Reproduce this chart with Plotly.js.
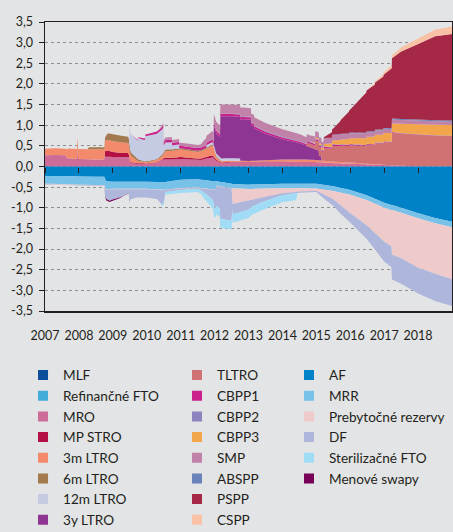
<!DOCTYPE html>
<html><head><meta charset="utf-8">
<script src="https://cdn.plot.ly/plotly-3.0.1.min.js"></script>
<style>html,body{margin:0;padding:0;background:#e3e4e5;} #chart{width:453px;height:532px;}</style>
</head><body><div id="chart"></div>
<script>
// ---------- DATA (trillions EUR, x = decimal year) ----------
// Assets (positive side), bottom to top
const mlfX = [2007.0, 2019.0];
const mlfY = [0, 0];
const refFtoX = [2007.0, 2019.0];
const refFtoY = [0, 0];
const mroX = [2007.0, 2007.3, 2007.6, 2007.65, 2007.94, 2007.955, 2007.975, 2008.02, 2008.4, 2008.74, 2008.78, 2009.0, 2009.3, 2009.47, 2009.52, 2009.75, 2010.0, 2010.3, 2010.5, 2010.75, 2011.0, 2011.3, 2011.6, 2011.8, 2011.95, 2012.05, 2012.2, 2012.5, 2013.0, 2013.5, 2014.0, 2014.5, 2014.9, 2015.5, 2016.0, 2016.5, 2017.0, 2017.5, 2018.0, 2019.0];
const mroY = [0.27, 0.28, 0.27, 0.2, 0.18, 0.46, 0.18, 0.18, 0.17, 0.17, 0.24, 0.23, 0.23, 0.23, 0.09, 0.06, 0.06, 0.1, 0.17, 0.17, 0.18, 0.17, 0.16, 0.2, 0.22, 0.14, 0.08, 0.1, 0.1, 0.11, 0.12, 0.11, 0.11, 0.08, 0.07, 0.05, 0.035, 0.02, 0.005, 0.004];
const mpStroX = [2007.0, 2008.75, 2008.77, 2008.9, 2009.0, 2009.3, 2009.45, 2009.5, 2010.45, 2010.52, 2011.0, 2011.5, 2011.9, 2012.1, 2012.5, 2013.0, 2014.0, 2014.5, 2019.0];
const mpStroY = [0, 0, 0.14, 0.14, 0.12, 0.1, 0.1, 0.02, 0.01, 0.04, 0.05, 0.03, 0.05, 0.02, 0.015, 0.01, 0.01, 0, 0];
const ltro3mX = [2007.0, 2007.6, 2007.68, 2008.0, 2008.5, 2008.75, 2008.8, 2009.0, 2009.3, 2009.47, 2009.55, 2009.75, 2010.0, 2010.3, 2010.5, 2010.55, 2011.0, 2011.5, 2011.8, 2011.95, 2012.05, 2012.2, 2013.0, 2014.0, 2014.6, 2015.0, 2015.5, 2016.0, 2016.5, 2017.0, 2017.5, 2019.0];
const ltro3mY = [0.16, 0.16, 0.24, 0.245, 0.245, 0.245, 0.26, 0.26, 0.25, 0.24, 0.14, 0.05, 0.03, 0.05, 0.1, 0.16, 0.18, 0.16, 0.2, 0.24, 0.07, 0.03, 0.025, 0.04, 0.06, 0.05, 0.04, 0.025, 0.015, 0.008, 0, 0];
const ltro6mX = [2007.0, 2008.25, 2008.3, 2008.75, 2008.85, 2009.0, 2009.45, 2009.55, 2009.9, 2010.3, 2010.5, 2011.0, 2011.5, 2011.95, 2012.2, 2012.6, 2019.0];
const ltro6mY = [0, 0, 0.05, 0.05, 0.16, 0.17, 0.15, 0.08, 0.02, 0.02, 0.04, 0.03, 0.03, 0.03, 0.01, 0, 0];
const ltro12mX = [2007.0, 2009.48, 2009.49, 2009.74, 2009.75, 2009.95, 2009.96, 2010.49, 2010.5, 2010.74, 2010.75, 2010.95, 2010.96, 2011.75, 2011.76, 2012.75, 2012.76, 2019.0];
const ltro12mY = [0, 0, 0.442, 0.442, 0.517, 0.517, 0.614, 0.614, 0.172, 0.172, 0.097, 0.097, 0, 0, 0.057, 0.057, 0, 0];
const ltro3yX = [2007.0, 2011.97, 2011.98, 2012.16, 2012.17, 2013.07, 2013.08, 2013.16, 2013.17, 2013.5, 2014.0, 2014.5, 2014.72, 2014.97, 2015.07, 2015.08, 2015.15, 2015.16, 2019.0];
const ltro3yY = [0, 0, 0.489, 0.489, 1.019, 1.0, 0.86, 0.84, 0.78, 0.64, 0.49, 0.4, 0.33, 0.26, 0.24, 0.12, 0.1, 0, 0];
const tltroX = [2007.0, 2014.71, 2014.72, 2014.96, 2014.97, 2015.21, 2015.22, 2015.46, 2015.47, 2015.71, 2015.72, 2015.96, 2015.97, 2016.21, 2016.22, 2016.47, 2016.48, 2016.72, 2016.73, 2016.97, 2016.98, 2017.22, 2017.23, 2017.5, 2018.0, 2018.5, 2019.0];
const tltroY = [0, 0, 0.083, 0.083, 0.212, 0.212, 0.31, 0.31, 0.384, 0.384, 0.4, 0.4, 0.418, 0.418, 0.425, 0.425, 0.462, 0.462, 0.507, 0.507, 0.548, 0.548, 0.782, 0.778, 0.765, 0.74, 0.73];
const cbpp1X = [2007.0, 2009.5, 2009.75, 2010.0, 2010.5, 2011.5, 2012.5, 2013.5, 2014.5, 2015.5, 2016.5, 2017.5, 2019.0];
const cbpp1Y = [0, 0, 0.02, 0.04, 0.06, 0.062, 0.06, 0.05, 0.04, 0.028, 0.018, 0.01, 0.004];
const cbpp2X = [2007.0, 2011.85, 2012.3, 2012.85, 2014.0, 2015.0, 2016.0, 2017.0, 2018.0, 2019.0];
const cbpp2Y = [0, 0, 0.008, 0.016, 0.015, 0.012, 0.009, 0.007, 0.005, 0.004];
const cbpp3X = [2007.0, 2014.8, 2014.97, 2015.2, 2015.5, 2016.0, 2016.5, 2017.0, 2017.5, 2018.0, 2018.5, 2019.0];
const cbpp3Y = [0, 0, 0.03, 0.05, 0.09, 0.14, 0.17, 0.2, 0.22, 0.24, 0.255, 0.262];
const smpX = [2007.0, 2010.36, 2010.45, 2010.55, 2011.0, 2011.6, 2011.7, 2011.95, 2012.2, 2013.0, 2014.0, 2014.5, 2015.0, 2016.0, 2017.0, 2018.0, 2019.0];
const smpY = [0, 0, 0.04, 0.06, 0.074, 0.076, 0.15, 0.21, 0.22, 0.21, 0.18, 0.165, 0.145, 0.12, 0.1, 0.09, 0.08];
const absppX = [2007.0, 2014.88, 2015.0, 2015.5, 2016.0, 2017.0, 2018.0, 2019.0];
const absppY = [0, 0, 0.002, 0.008, 0.016, 0.023, 0.026, 0.028];
const psppX = [2007.0, 2015.18, 2015.5, 2016.0, 2016.5, 2017.0, 2017.22, 2017.5, 2018.0, 2018.5, 2019.0];
const psppY = [0, 0, 0.15, 0.56, 1.0, 1.3, 1.45, 1.63, 1.83, 2.03, 2.1];
const csppX = [2007.0, 2016.44, 2016.6, 2017.0, 2017.5, 2018.0, 2018.5, 2019.0];
const csppY = [0, 0, 0.02, 0.055, 0.1, 0.13, 0.16, 0.178];

// Liabilities (negative side), top to bottom
const afX = [2007.0, 2007.5, 2008.0, 2008.5, 2008.75, 2008.8, 2009.0, 2009.5, 2010.0, 2010.5, 2011.0, 2011.5, 2011.9, 2012.0, 2012.5, 2013.0, 2013.5, 2014.0, 2014.5, 2015.0, 2015.5, 2016.0, 2016.5, 2017.0, 2017.5, 2018.0, 2018.5, 2019.0];
const afY = [-0.23, -0.23, -0.24, -0.25, -0.25, -0.36, -0.37, -0.37, -0.37, -0.38, -0.32, -0.31, -0.35, -0.35, -0.42, -0.44, -0.43, -0.42, -0.42, -0.42, -0.48, -0.57, -0.7, -0.88, -1.0, -1.13, -1.25, -1.34];
const mrrX = [2007.0, 2008.0, 2008.75, 2009.0, 2010.0, 2011.0, 2012.03, 2012.05, 2013.0, 2014.0, 2015.0, 2016.0, 2017.0, 2018.0, 2019.0];
const mrrY = [-0.19, -0.2, -0.2, -0.17, -0.17, -0.2, -0.2, -0.105, -0.105, -0.105, -0.11, -0.115, -0.12, -0.125, -0.13];
const excessX = [2007.0, 2012.5, 2012.53, 2013.0, 2013.5, 2014.0, 2014.5, 2015.0, 2015.5, 2016.0, 2016.5, 2017.0, 2017.21, 2017.23, 2017.5, 2018.0, 2018.5, 2019.0];
const excessY = [-0.01, -0.01, -0.38, -0.28, -0.2, -0.12, -0.08, -0.06, -0.2, -0.45, -0.62, -0.82, -0.88, -1.08, -1.1, -1.2, -1.22, -1.26];
const dfX = [2007.0, 2008.75, 2008.77, 2008.9, 2009.0, 2009.2, 2009.47, 2009.49, 2009.52, 2009.7, 2010.0, 2010.3, 2010.45, 2010.5, 2010.55, 2011.0, 2011.5, 2011.75, 2011.95, 2011.99, 2012.15, 2012.17, 2012.5, 2012.52, 2013.0, 2013.1, 2013.5, 2014.0, 2014.5, 2015.0, 2015.3, 2015.7, 2016.0, 2016.5, 2017.0, 2017.21, 2017.23, 2017.5, 2018.0, 2018.5, 2019.0];
const dfY = [-0.01, -0.01, -0.2, -0.27, -0.25, -0.2, -0.1, -0.35, -0.25, -0.2, -0.2, -0.22, -0.35, -0.3, -0.05, -0.04, -0.02, -0.12, -0.25, -0.45, -0.52, -0.78, -0.78, -0.25, -0.22, -0.16, -0.1, -0.05, -0.03, -0.03, -0.12, -0.2, -0.22, -0.33, -0.48, -0.5, -0.6, -0.62, -0.62, -0.66, -0.65];
const sterX = [2007.0, 2010.38, 2010.45, 2010.55, 2011.0, 2011.6, 2011.7, 2011.95, 2012.2, 2013.0, 2013.5, 2014.0, 2014.4, 2014.45, 2019.0];
const sterY = [0, 0, -0.04, -0.06, -0.073, -0.076, -0.15, -0.21, -0.21, -0.205, -0.19, -0.17, -0.16, 0, 0];
const swapX = [2007.0, 2008.75, 2008.8, 2009.0, 2009.3, 2009.5, 2019.0];
const swapY = [0, 0, -0.04, -0.03, -0.01, 0, 0];

// Labels
const yearTicks = [2007, 2008, 2009, 2010, 2011, 2012, 2013, 2014, 2015, 2016, 2017, 2018];
const yearLabels = ['2007', '2008', '2009', '2010', '2011', '2012', '2013', '2014', '2015', '2016', '2017', '2018'];
const yTicks = [-3.5, -3, -2.5, -2, -1.5, -1, -0.5, 0, 0.5, 1, 1.5, 2, 2.5, 3, 3.5];
const yLabels = ['-3,5', '-3,0', '-2,5', '-2,0', '-1,5', '-1,0', '-0,5', '0,0', '0,5', '1,0', '1,5', '2,0', '2,5', '3,0', '3,5'];

const assetNames = ['MLF', 'Refinančné FTO', 'MRO', 'MP STRO', '3m LTRO', '6m LTRO', '12m LTRO', '3y LTRO', 'TLTRO', 'CBPP1', 'CBPP2', 'CBPP3', 'SMP', 'ABSPP', 'PSPP', 'CSPP'];
const assetColors = ['#0b4e9b', '#44acd8', '#cd6c99', '#b30f45', '#f38a6c', '#a27a4e', '#c6cbe4', '#8e3594', '#d07274', '#c8218b', '#8c83bf', '#f2a54b', '#c082a8', '#6a82ba', '#a52947', '#f9c2a7'];
const liabNames = ['AF', 'MRR', 'Prebytočné rezervy', 'DF', 'Sterilizačné FTO', 'Menové swapy'];
const liabColors = ['#0082c8', '#78c1e8', '#efcacb', '#aeb6db', '#a0dcf5', '#770058'];

// ---------- BUILD ----------
const assetData = [[mlfX, mlfY], [refFtoX, refFtoY], [mroX, mroY], [mpStroX, mpStroY], [ltro3mX, ltro3mY], [ltro6mX, ltro6mY], [ltro12mX, ltro12mY], [ltro3yX, ltro3yY], [tltroX, tltroY], [cbpp1X, cbpp1Y], [cbpp2X, cbpp2Y], [cbpp3X, cbpp3Y], [smpX, smpY], [absppX, absppY], [psppX, psppY], [csppX, csppY]];
const liabData = [[afX, afY], [mrrX, mrrY], [excessX, excessY], [dfX, dfY], [sterX, sterY], [swapX, swapY]];

const traces = [];
assetData.forEach((d, i) => traces.push({
  type: 'scatter', mode: 'none', x: d[0], y: d[1], stackgroup: 'assets', stackgaps: 'interpolate',
  fillcolor: assetColors[i], name: assetNames[i], showlegend: false, hoverinfo: 'skip'
}));
liabData.forEach((d, i) => traces.push({
  type: 'scatter', mode: 'none', x: d[0], y: d[1], stackgroup: 'liab', stackgaps: 'interpolate',
  fillcolor: liabColors[i], name: liabNames[i], showlegend: false, hoverinfo: 'skip'
}));

// legend entries (square swatches) in three columns
function legendItem(name, color, lg, xa) {
  traces.push({type: 'scatter', mode: 'markers', x: [null], y: [null], name: name, xaxis: xa || 'x',
    marker: {symbol: 'square', size: 10, color: color, line: {width: 0}}, legend: lg, showlegend: true, hoverinfo: 'skip'});
}
assetNames.forEach((n, i) => legendItem(n, assetColors[i], i < 8 ? 'legend' : 'legend2', i === 0 ? 'x2' : 'x'));
liabNames.forEach((n, i) => legendItem(n, liabColors[i], 'legend3'));

const ink = '#231f20';
const fontFam = 'Lato, "Open Sans", sans-serif';
const lgBase = {orientation: 'v', bgcolor: 'rgba(0,0,0,0)', borderwidth: 0, xanchor: 'left', yanchor: 'top', traceorder: 'normal',
  font: {family: fontFam, size: 13.6, color: ink}, itemclick: false, itemdoubleclick: false, tracegroupgap: 0};

const layout = {
  width: 453, height: 532,
  paper_bgcolor: '#e3e4e5', plot_bgcolor: '#e3e4e5',
  margin: {l: 45, r: 1, t: 22, b: 221, autoexpand: false},
  font: {family: fontFam, color: ink},
  xaxis: {range: [2007, 2019], tickvals: yearTicks, ticktext: yearLabels, ticks: '', showline: true, linecolor: ink, linewidth: 1.5,
    mirror: true, showgrid: false, zeroline: false, tickfont: {family: fontFam, size: 12.5, color: ink}, ticklabelstandoff: 12, fixedrange: true},
  xaxis2: {overlaying: 'x', anchor: 'free', position: 0.5, range: [2007, 2019], tickvals: yearTicks, ticks: 'outside', ticklen: 5, tickwidth: 1,
    tickcolor: ink, showticklabels: false, showline: false, showgrid: false, zeroline: false, fixedrange: true},
  yaxis: {range: [-3.5, 3.5], tickvals: yTicks, ticktext: yLabels, ticks: 'outside', ticklen: 5, tickwidth: 1, tickcolor: ink,
    showline: true, linecolor: ink, linewidth: 1.5, mirror: true, showgrid: true, gridcolor: '#8e8e8e', griddash: 'dot', gridwidth: 1,
    zeroline: false, tickfont: {family: fontFam, size: 12.5, color: ink}, ticklabelstandoff: 3, fixedrange: true},
  legend: Object.assign({}, lgBase, {x: -0.054, y: -0.1685}),
  legend2: Object.assign({}, lgBase, {x: 0.3243, y: -0.1685}),
  legend3: Object.assign({}, lgBase, {x: 0.5995, y: -0.1685}),
  showlegend: true
};

Plotly.newPlot('chart', traces, layout, {displayModeBar: false, staticPlot: true});
</script>
</body></html>
